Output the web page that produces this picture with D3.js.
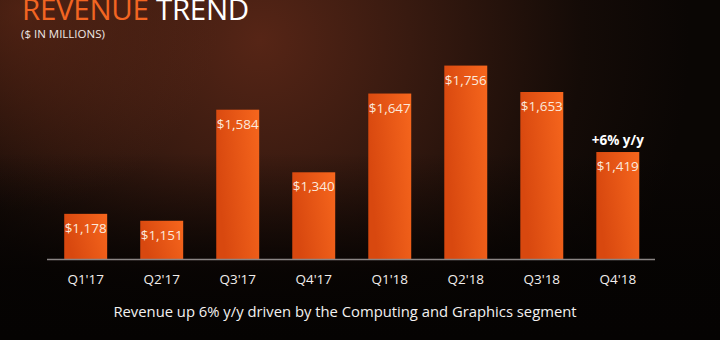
<!DOCTYPE html>
<html>
<head>
<meta charset="utf-8">
<script src="https://cdn.jsdelivr.net/npm/d3@7"></script>
<style>
  html, body { margin: 0; padding: 0; background: #0b0705; }
  svg { display: block; }
</style>
</head>
<body>
<svg id="chart" width="720" height="340"></svg>
<script>
// Quarterly revenue ($ in millions)
const quarters = ["Q1'17", "Q2'17", "Q3'17", "Q4'17", "Q1'18", "Q2'18", "Q3'18", "Q4'18"];
const revenue = [1178, 1151, 1584, 1340, 1647, 1756, 1653, 1419];
const valueLabels = ["$1,178", "$1,151", "$1,584", "$1,340", "$1,647", "$1,756", "$1,653", "$1,419"];
const callout = { quarter: "Q4'18", text: "+6% y/y" };

const W = 720, H = 340;
const svg = d3.select("#chart");
const defs = svg.append("defs");

// Backdrop: dark slide with a warm glow toward the upper left
const bg = defs.append("radialGradient").attr("id", "glow")
  .attr("gradientUnits", "userSpaceOnUse")
  .attr("cx", 260).attr("cy", 40).attr("r", 430);
bg.append("stop").attr("offset", 0).attr("stop-color", "#562516");
bg.append("stop").attr("offset", 0.35).attr("stop-color", "#381a10");
bg.append("stop").attr("offset", 0.75).attr("stop-color", "#140b07");
bg.append("stop").attr("offset", 1).attr("stop-color", "#0a0604");

const bg2 = defs.append("radialGradient").attr("id", "glow2")
  .attr("gradientUnits", "userSpaceOnUse")
  .attr("cx", 20).attr("cy", 10).attr("r", 200);
bg2.append("stop").attr("offset", 0).attr("stop-color", "#6a2c18").attr("stop-opacity", 0.6);
bg2.append("stop").attr("offset", 1).attr("stop-color", "#6a2c18").attr("stop-opacity", 0);

const fade = defs.append("linearGradient").attr("id", "fade")
  .attr("x1", 0).attr("y1", 0).attr("x2", 0).attr("y2", 1);
fade.append("stop").attr("offset", 0.45).attr("stop-color", "#050302").attr("stop-opacity", 0);
fade.append("stop").attr("offset", 0.8).attr("stop-color", "#050302").attr("stop-opacity", 0.9);
fade.append("stop").attr("offset", 1).attr("stop-color", "#050302").attr("stop-opacity", 1);

svg.append("rect").attr("width", W).attr("height", H).attr("fill", "url(#glow)");
svg.append("rect").attr("width", W).attr("height", H).attr("fill", "url(#glow2)");
svg.append("rect").attr("width", W).attr("height", H).attr("fill", "url(#fade)");

// Bar fill: deeper red-orange on the left, bright orange on the right
const barGrad = defs.append("linearGradient").attr("id", "bar")
  .attr("x1", 0).attr("y1", 0.3).attr("x2", 1).attr("y2", 0);
barGrad.append("stop").attr("offset", 0).attr("stop-color", "#d8480f");
barGrad.append("stop").attr("offset", 1).attr("stop-color", "#f6661d");

const font = "'Open Sans', 'Noto Sans', sans-serif";

// Title (sits flush against the top edge of the slide)
const title = svg.append("text").attr("x", 22).attr("y", 20)
  .attr("font-family", font).attr("font-size", 29.5).attr("letter-spacing", -0.3);
title.append("tspan").attr("fill", "#f26522").text("REVENUE ");
title.append("tspan").attr("fill", "#ffffff").text("TREND");

svg.append("text").attr("x", 21).attr("y", 37.5)
  .attr("font-family", font).attr("font-size", 11.5).attr("fill", "#f0e8e4")
  .text("($ IN MILLIONS)");

// Scales
const baseY = 259.5;
const x = d3.scaleBand().domain(quarters).range([47.5, 656]).paddingInner(0.435).paddingOuter(0.22);
const y = d3.scaleLinear().domain([1000, 2000]).range([baseY, 3]);

const data = quarters.map((q, i) => ({ q, v: revenue[i], label: valueLabels[i] }));

// Bars
svg.append("g").selectAll("rect").data(data).join("rect")
  .attr("x", d => x(d.q))
  .attr("y", d => y(d.v))
  .attr("width", x.bandwidth())
  .attr("height", d => baseY - y(d.v))
  .attr("fill", "url(#bar)");

// Value labels inside the top of each bar
svg.append("g").selectAll("text").data(data).join("text")
  .attr("x", d => x(d.q) + x.bandwidth() / 2)
  .attr("y", d => y(d.v) + 19)
  .attr("text-anchor", "middle")
  .attr("font-family", font).attr("font-size", 13.5)
  .attr("fill", "#fbe9dc")
  .text(d => d.label);

// Year-over-year callout
const cd = data.find(d => d.q === callout.quarter);
svg.append("text")
  .attr("x", x(cd.q) + x.bandwidth() / 2)
  .attr("y", y(cd.v) - 7)
  .attr("text-anchor", "middle")
  .attr("font-family", font).attr("font-size", 13.5).attr("font-weight", "bold")
  .attr("fill", "#ffffff")
  .text(callout.text);

// Category axis
const axis = svg.append("g").attr("transform", `translate(0,${baseY})`)
  .call(d3.axisBottom(x).tickSize(0).tickPadding(15));
axis.select(".domain").attr("stroke", "#8a8584").attr("stroke-width", 1.5)
  .attr("d", "M47,0H655");
axis.selectAll("text")
  .attr("font-family", font).attr("font-size", 13.5)
  .attr("fill", "#f3eeec");

// Footnote
svg.append("text").attr("x", 345).attr("y", 317)
  .attr("text-anchor", "middle")
  .attr("font-family", font).attr("font-size", 14.8)
  .attr("fill", "#f3f1f0")
  .text("Revenue up 6% y/y driven by the Computing and Graphics segment");
</script>
</body>
</html>
